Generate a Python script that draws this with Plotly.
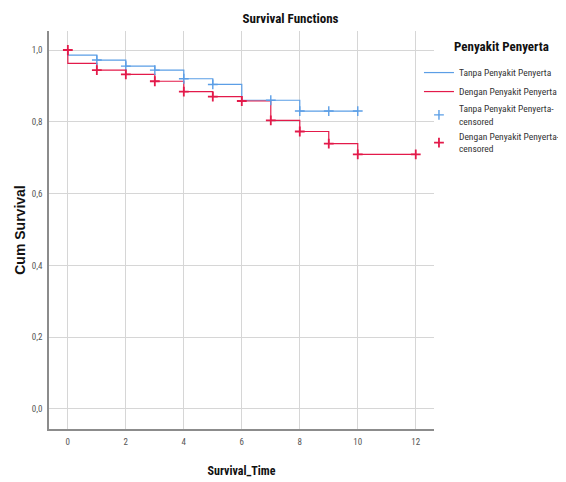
import plotly.graph_objects as go

# step points (time, cumulative survival)
tanpa_time = [0, 0, 1, 2, 3, 4, 5, 6, 8, 10]
tanpa_surv = [1.0, 0.986, 0.972, 0.955, 0.944, 0.920, 0.904, 0.860, 0.830, 0.830]
dengan_time = [0, 0, 1, 2, 3, 4, 5, 6, 7, 8, 9, 10, 12]
dengan_surv = [1.0, 0.963, 0.944, 0.932, 0.913, 0.884, 0.870, 0.858, 0.804, 0.773, 0.739, 0.709, 0.709]

# censored marks
tanpa_cens_time = [1, 2, 3, 4, 5, 7, 8, 9, 10]
tanpa_cens_surv = [0.972, 0.955, 0.944, 0.920, 0.904, 0.860, 0.830, 0.830, 0.830]
dengan_cens_time = [0, 1, 2, 3, 4, 5, 6, 7, 8, 9, 10, 12]
dengan_cens_surv = [1.0, 0.944, 0.932, 0.913, 0.884, 0.870, 0.858, 0.804, 0.773, 0.739, 0.709, 0.709]

x_ticks = [0, 2, 4, 6, 8, 10, 12]
y_ticks = [0.0, 0.2, 0.4, 0.6, 0.8, 1.0]

blue = '#5b9ee6'
red = '#e31a4a'
narrow = "Roboto Condensed, DejaVu Sans Condensed, sans-serif"

fig = go.Figure()

fig.add_trace(go.Scatter(
    x=tanpa_time, y=tanpa_surv, mode='lines', line=dict(color=blue, width=1.2, shape='hv'),
    name='Tanpa Penyakit Penyerta'))
fig.add_trace(go.Scatter(
    x=dengan_time, y=dengan_surv, mode='lines', line=dict(color=red, width=1.2, shape='hv'),
    name='Dengan Penyakit Penyerta'))
fig.add_trace(go.Scatter(
    x=tanpa_cens_time, y=tanpa_cens_surv, mode='markers',
    marker=dict(symbol='cross-thin', size=7, line=dict(color=blue, width=1.4)),
    name='Tanpa Penyakit Penyerta-<br>censored'))
fig.add_trace(go.Scatter(
    x=dengan_cens_time, y=dengan_cens_surv, mode='markers',
    marker=dict(symbol='cross-thin', size=7, line=dict(color=red, width=1.8)),
    name='Dengan Penyakit Penyerta-<br>censored'))

# page body adds an 8px offset, so the figure is 8px smaller than the window
# plot area: 41..426 px wide, 23..421 px tall; legend sits inside the paper on the right
fig.update_layout(
    width=558, height=474,
    margin=dict(l=41, r=0, t=23, b=53),
    paper_bgcolor='white', plot_bgcolor='white',
    separators=',.',
    font=dict(family=narrow, size=10, color='#222222'),
    title=dict(text='<b>Survival Functions</b>', x=0.5063, xanchor='center',
               y=0.979, yanchor='middle', font=dict(size=13, color='#111111')),
    legend=dict(
        x=0.7156, y=0.932, xanchor='left', yanchor='top',
        bgcolor='rgba(0,0,0,0)',
        font=dict(size=9.5, color='#333333'),
        tracegroupgap=0, itemwidth=30,
    ),
    xaxis=dict(
        domain=[0, 0.7447], range=[-0.65, 12.63], tickvals=x_ticks, tickformat='d',
        showgrid=True, gridcolor='#d6d6d6', gridwidth=1,
        showline=True, linecolor='#8c8c8c', linewidth=1.5,
        zeroline=False, ticks='', automargin=False, ticklabelstandoff=3,
        tickfont=dict(size=9, color='#555555'),
        title=dict(text='<b>Survival_Time</b>', font=dict(size=12, color='#111111'), standoff=21),
    ),
    yaxis=dict(
        range=[-0.056, 1.053], tickvals=y_ticks, tickformat='.1f',
        showgrid=True, gridcolor='#d6d6d6', gridwidth=1,
        showline=True, linecolor='#8c8c8c', linewidth=1.5,
        zeroline=False, ticks='', automargin=False, ticklabelstandoff=3,
        tickfont=dict(size=9, color='#555555'),
        title=dict(text='<b>Cum Survival</b>', font=dict(family='Liberation Sans, Arial, sans-serif',
                                                       size=14, color='#111111'), standoff=3),
    ),
)

# legend heading placed as text so it lines up with the entry labels
fig.add_annotation(text='<b>Penyakit Penyerta</b>', xref='paper', yref='paper',
                   x=0.7795, y=0.9606, xanchor='left', yanchor='middle', showarrow=False,
                   font=dict(size=13, color='#111111'))

fig.write_html("out.html")
